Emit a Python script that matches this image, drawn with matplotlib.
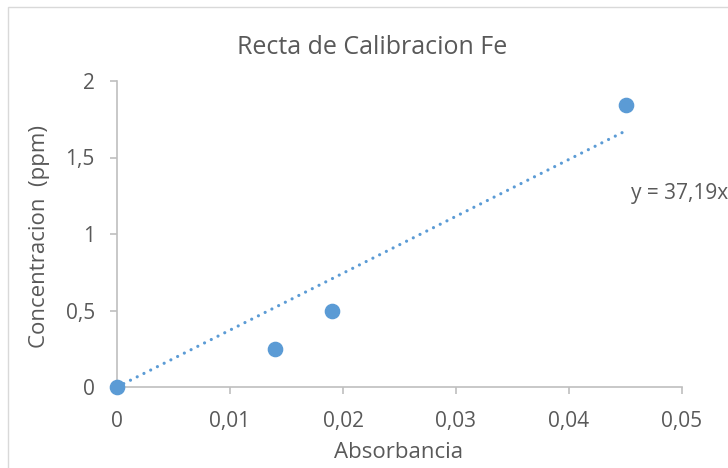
import matplotlib
matplotlib.use('Agg')
import matplotlib.pyplot as plt
from matplotlib.patches import Rectangle
from matplotlib.ticker import FuncFormatter

# Calibration data (absorbance vs concentration)
absorbancia = [0.0, 0.014, 0.019, 0.045]
concentracion = [0.0, 0.25, 0.5, 1.84]
pendiente = 37.19
x_ticks = [0, 0.01, 0.02, 0.03, 0.04, 0.05]
y_ticks = [0, 0.5, 1, 1.5, 2]

plt.rcParams['font.family'] = ['Open Sans', 'DejaVu Sans']
text_gray = '#595959'
axis_gray = '#bfbfbf'
blue = '#5b9bd5'

fig = plt.figure(figsize=(7.28, 4.68), dpi=100)
ax = fig.add_axes([117/728, 1 - 387/468, 565/728, 306/468])

# trendline through origin
x_fit = [0, max(absorbancia)]
y_fit = [pendiente * v for v in x_fit]
ax.plot(x_fit, y_fit, color=blue, linewidth=2.3, linestyle=(0, (0.01, 2.35)),
        dash_capstyle='round', zorder=2)
ax.scatter(absorbancia, concentracion, s=105, color=blue, zorder=3, clip_on=False)

ax.set_xlim(0, 0.05)
ax.set_ylim(0, 2)
ax.set_xticks(x_ticks)
ax.set_yticks(y_ticks)

def coma(v, pos):
    return ('%g' % round(v, 4)).replace('.', ',')

ax.xaxis.set_major_formatter(FuncFormatter(coma))
ax.yaxis.set_major_formatter(FuncFormatter(coma))

for side in ['top', 'right']:
    ax.spines[side].set_visible(False)
for side in ['left', 'bottom']:
    ax.spines[side].set_color(axis_gray)
    ax.spines[side].set_linewidth(1.2)
ax.tick_params(axis='both', colors=axis_gray, length=5, width=1.2, labelsize=15,
               labelcolor=text_gray)
ax.tick_params(axis='x', pad=12)
ax.tick_params(axis='y', pad=11)

fig.text(372/728, 1 - 47/468, 'Recta de Calibracion Fe', ha='center', va='center',
         fontsize=18, color=text_gray)
fig.text(399/728, 1 - 452/468, 'Absorbancia', ha='center', va='center',
         fontsize=16, color=text_gray)
fig.text(40/728, 1 - 237/468, 'Concentracion  (ppm)', ha='center', va='center',
         rotation=90, fontsize=16, color=text_gray)
fig.text(631/728, 1 - 193/468, 'y = 37,19x', ha='left', va='center',
         fontsize=15, color=text_gray)

# chart border (cropped at right and bottom)
fig.patches.append(Rectangle((8/728, -0.1), 1.2, 1 - 7/468 + 0.1,
                             transform=fig.transFigure, fill=False,
                             edgecolor='#d9d9d9', linewidth=1))

fig.savefig('out.png', dpi=100)
